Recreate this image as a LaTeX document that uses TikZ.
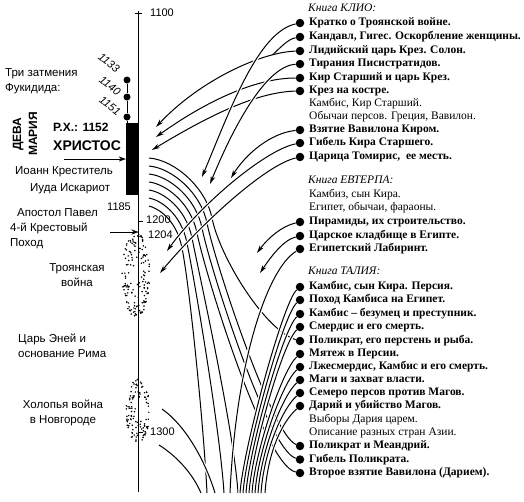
\documentclass[tikz,border=0pt]{standalone}
\usepackage{fontspec}
\setmainfont{Liberation Serif}
\setsansfont{Liberation Sans}
\usetikzlibrary{arrows.meta}
\begin{document}
\begin{tikzpicture}[x=1pt, y=-1pt,
    entry/.style={anchor=west, inner sep=0pt, text height=8pt, text depth=2.5pt, font=\fontsize{11.5}{13}\selectfont\bfseries},
    note/.style={entry, font=\fontsize{11.5}{13}\selectfont},
    book/.style={entry, font=\fontsize{11.5}{13}\selectfont\itshape},
    bullet/.style={circle, fill, inner sep=0pt, minimum size=8.5pt},
    event/.style={inner sep=0pt, align=center, font=\sffamily\fontsize{11.5}{14.5}\selectfont},
    year/.style={anchor=west, inner sep=0pt, font=\sffamily\fontsize{11}{13}\selectfont},
    eclipse/.style={inner sep=0pt, rotate=-38, font=\sffamily\itshape\fontsize{11}{12}\selectfont},
    link/.style={line width=1pt},
    pointer/.style={link, -{Stealth[length=8pt, width=4.5pt, inset=2.5pt]}},
    over/.style={preaction={draw=white, line width=3.4pt, -}},
  ]
  \useasboundingbox (0,0) rectangle (524,501);

  % Time axis
  \coordinate (axistop) at (138.5,11);
  \coordinate (axisbot) at (138.5,492);
  \draw[line width=0.8pt] (axistop) -- (axisbot);
  \draw (135,13) -- (142,13);
  \draw (138.5,221) -- (143,221);
  \draw (138.5,432) -- (143,432);
  \node[year] (y1100) at (150,13) {1100};
  \node[year] (y1200) at (146,220) {1200};
  \node[year] (y1204) at (148,235) {1204};
  \node[year] (y1185) at (107,207) {1185};
  \node[year] (y1300) at (150,432) {1300};

  % Eclipses and Christ
  \node[bullet, minimum size=7pt] (ecl1) at (127,80) {};
  \node[bullet, minimum size=7pt] (ecl2) at (127,97) {};
  \node[bullet, minimum size=7pt] (ecl3) at (127,117) {};
  \node[fill, inner sep=0pt, minimum width=12.5pt, minimum height=72pt] (christ) at (132.25,159) {};
  \draw (ecl1) -- (ecl2) -- (ecl3) -- (ecl3 |- christ.north);
  \node[eclipse] at (109,63) {1133};
  \node[eclipse] at (110,86) {1140};
  \node[eclipse] at (110,106) {1151};
  \node[event, align=left, anchor=west] (eclipses) at (5,81) {Три затмения\\Фукидида:};
  \node[event, rotate=90, font=\sffamily\bfseries\fontsize{12}{16}\selectfont] (mary) at (25,134) {ДЕВА\\МАРИЯ};
  \node[anchor=west, inner sep=0pt, font=\sffamily\bfseries\fontsize{12}{14}\selectfont] (rx) at (53,127) {Р.Х.: 1152};
  \node[anchor=west, inner sep=0pt, font=\sffamily\bfseries\fontsize{14}{16}\selectfont] (christos) at (53,146) {ХРИСТОС};
  \coordinate (christfrom) at (64,159);
  \draw[-{Stealth[length=7pt, width=5pt]}] (christfrom) -- (christfrom -| christ.west);
  \node[event, anchor=west] (john) at (15,172) {Иоанн Креститель};
  \node[event, anchor=west] (judas) at (30,189) {Иуда Искариот};
  \node[event, anchor=west] (paul) at (17,213) {Апостол Павел};
  \node[event, align=left, anchor=west] (crusade) at (10,236) {4-й Крестовый\\Поход};
  \coordinate (crusadefrom) at (110,232);
  \draw[-{Stealth[length=7pt, width=5pt]}] (crusadefrom) -- (crusadefrom -| axistop);
  \node[event] (troywar) at (77,275) {Троянская\\война};
  \node[event, align=left, anchor=west] (aeneas) at (18,346) {Царь Эней и\\основание Рима};
  \node[event] (novgorod) at (63,413) {Холопья война\\в Новгороде};

  % Stippled spots
  \pgfmathsetseed{7}
  \foreach \i in {1,...,150} {
    \pgfmathsetmacro{\a}{360*rnd}
    \pgfmathsetmacro{\r}{rnd^0.3}
    \pgfmathsetmacro{\px}{136+14*\r*cos(\a)}
    \pgfmathsetmacro{\py}{275+42*\r*sin(\a)}
    \fill (\px,\py) circle[radius=0.85];
  }
  \foreach \i in {1,...,110} {
    \pgfmathsetmacro{\a}{360*rnd}
    \pgfmathsetmacro{\r}{rnd^0.3}
    \pgfmathsetmacro{\px}{138+12*\r*cos(\a)}
    \pgfmathsetmacro{\py}{411+32*\r*sin(\a)}
    \fill (\px,\py) circle[radius=0.85];
  }

  % Book Clio
  \node[book] (klio) at (308,9) {Книга КЛИО:};
  \node[bullet] (troy) at (300,23) {};       \node[entry] at (309,23) {Кратко о Троянской войне.};
  \node[bullet] (kandavl) at (300,37) {};    \node[entry] at (309,37) {Кандавл, Гигес. Оскорбление женщины.};
  \node[bullet] (lydia) at (300,51) {};      \node[entry] at (309,51) {Лидийский царь Крез. Солон.};
  \node[bullet] (tyranny) at (300,64) {};    \node[entry] at (309,64) {Тирания Писистратидов.};
  \node[bullet] (cyrus) at (300,78) {};      \node[entry] at (309,78) {Кир Старший и царь Крез.};
  \node[bullet] (pyre) at (300,91) {};       \node[entry] at (309,91) {Крез на костре.};
  \node[note] at (309,104) {Камбис, Кир Старший.};
  \node[note] at (309,117) {Обычаи персов. Греция, Вавилон.};
  \node[bullet] (babylon) at (300,130) {};   \node[entry] at (309,130) {Взятие Вавилона Киром.};
  \node[bullet] (cyrusdeath) at (300,143) {};\node[entry] at (309,143) {Гибель Кира Старшего.};
  \node[bullet] (tomyris) at (300,157) {};   \node[entry] at (309,157) {Царица Томирис,\ \ ее месть.};

  % Book Euterpe
  \node[book] (evterpa) at (308,181) {Книга ЕВТЕРПА:};
  \node[note] at (309,195) {Камбиз, сын Кира.};
  \node[note] at (309,208) {Египет, обычаи, фараоны.};
  \node[bullet] (pyramids) at (300,222) {};  \node[entry] at (309,222) {Пирамиды, их строительство.};
  \node[bullet] (tombs) at (300,236) {};     \node[entry] at (309,236) {Царское кладбище в Египте.};
  \node[bullet] (labyrinth) at (300,249) {}; \node[entry] at (309,249) {Египетский Лабиринт.};

  % Book Thalia
  \node[book] (talia) at (308,272) {Книга ТАЛИЯ:};
  \node[bullet] (cambyses) at (300,287) {};  \node[entry] at (309,287) {Камбис, сын Кира. Персия.};
  \node[bullet] (campaign) at (300,300) {};  \node[entry] at (309,300) {Поход Камбиса на Египет.};
  \node[bullet] (madman) at (300,314) {};    \node[entry] at (309,314) {Камбис – безумец и преступник.};
  \node[bullet] (smerdis) at (300,327) {};   \node[entry] at (309,327) {Смердис и его смерть.};
  \node[bullet] (ring) at (300,341) {};      \node[entry] at (309,341) {Поликрат, его перстень и рыба.};
  \node[bullet] (revolt) at (300,354) {};    \node[entry] at (309,354) {Мятеж в Персии.};
  \node[bullet] (pseudo) at (300,367) {};    \node[entry] at (309,367) {Лжесмердис, Камбис и его смерть.};
  \node[bullet] (magi) at (300,380) {};      \node[entry] at (309,380) {Маги и захват власти.};
  \node[bullet] (seven) at (300,393) {};     \node[entry] at (309,393) {Семеро персов против Магов.};
  \node[bullet] (darius) at (300,406) {};    \node[entry] at (309,406) {Дарий и убийство Магов.};
  \node[note] at (309,420) {Выборы Дария царем.};
  \node[note] at (309,433) {Описание разных стран Азии.};
  \node[bullet] (meander) at (300,446) {};   \node[entry] at (309,446) {Поликрат и Меандрий.};
  \node[bullet] (polydeath) at (300,459.5) {};\node[entry] at (309,459.5) {Гибель Поликрата.};
  \node[bullet] (babylon2) at (300,473) {};  \node[entry] at (309,473) {Второе взятие Вавилона (Дарием).};

  % Free ends
  \coordinate (t-lydia) at (156,127);
  \coordinate (lydiajoin) at (272.6,54.8);
  \coordinate (t-cyrus) at (156,137);
  \coordinate (t-pyre) at (152,150);
  \coordinate (t-troy) at (202,177);
  \coordinate (t-tyranny) at (210,184);
  \coordinate (t-babylon) at (231,178);
  \coordinate (t-cyrusdeath) at (167,251);
  \coordinate (t-tomyris) at (160,273);
  \coordinate (t-pyramids) at (257,253);
  \coordinate (t-tombs) at (260,273);
  \coordinate (e-labyrinth) at (230,493);
  \coordinate (s-kholop1) at (162,409);
  \coordinate (e-kholop1) at (215,493);
  \coordinate (s-kholop2) at (159,445);
  \coordinate (e-kholop2) at (201,493);
  \coordinate (e-arc4) at (238,493);
  \coordinate (e-arc5) at (224,493);
  \coordinate (e-arc6) at (207,493);

  % Bundle from the axis
  \foreach \k/\to/\ca/\cb in {0/ring/265/330, 1/meander/272/435, 2/polydeath/268/450, 3/babylon2/264/465,
                               4/e-arc4/234/430, 5/e-arc5/220/430, 6/e-arc6/204/430} {
    \coordinate (s-arc\k) at (149,158+8*\k);
    \coordinate (m-arc\k) at (212-5*\k,218+5*\k);
    \draw[link] (s-arc\k) .. controls (175-3*\k,160+8*\k) and (206-5*\k,188+5*\k) .. (m-arc\k)
      .. controls (220-5*\k,258+5*\k) and (\ca,\cb) .. (\to);
  }

  % Links of Clio
  \draw[pointer] (lydia) .. controls (262,52) and (200,80) .. (t-lydia);
  \draw[link] (kandavl) .. controls (288,39) and (280,48) .. (lydiajoin);
  \draw[pointer] (cyrus) .. controls (255,78) and (205,102) .. (t-cyrus);
  \draw[pointer] (pyre) .. controls (255,92) and (205,118) .. (t-pyre);
  \draw[pointer, over] (troy) .. controls (258,32) and (230,110) .. (t-troy);
  \draw[pointer, over] (tyranny) .. controls (265,66) and (232,130) .. (t-tyranny);
  \draw[pointer, over] (babylon) .. controls (270,133) and (245,155) .. (t-babylon);
  \draw[pointer, over] (cyrusdeath) .. controls (265,150) and (200,205) .. (t-cyrusdeath);
  \draw[pointer, over] (tomyris) .. controls (265,165) and (200,225) .. (t-tomyris);

  % Links of Euterpe
  \draw[pointer, over] (pyramids) .. controls (282,226) and (268,238) .. (t-pyramids);
  \draw[pointer, over] (tombs) .. controls (283,240) and (270,258) .. (t-tombs);
  \draw[link, over] (labyrinth) .. controls (268,268) and (236,360) .. (e-labyrinth);

  % Links of Thalia
  \foreach \b/\ex in {cambyses/240, campaign/243, madman/246, smerdis/249, revolt/252, pseudo/255, magi/258, seven/261, darius/265} {
    \coordinate (e-\b) at (\ex,493);
    \draw[link, over] (\b) .. controls +(-17,15) and (\ex+3,450) .. (e-\b);
  }
  \draw[link, over] (s-kholop1) .. controls (185,425) and (205,460) .. (e-kholop1);
  \draw[link, over] (s-kholop2) .. controls (175,455) and (192,472) .. (e-kholop2);
\end{tikzpicture}
\end{document}
